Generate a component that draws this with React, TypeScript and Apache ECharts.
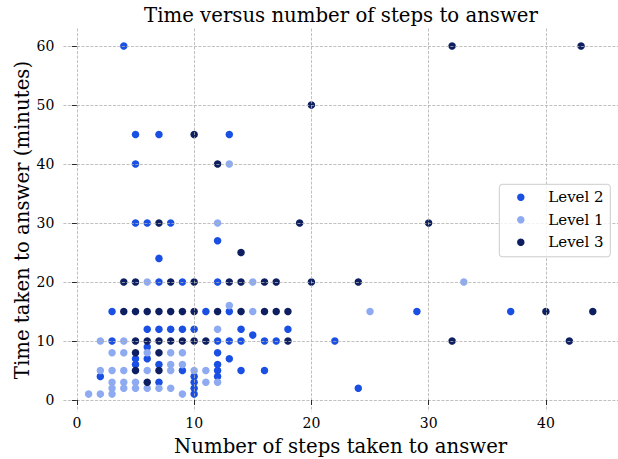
import React, { useEffect, useRef } from "react";
import * as echarts from "echarts";

const seriesNames = ["Level 2", "Level 1", "Level 3"];
const seriesColors = ["#1a4fe4", "#8eaaf1", "#0d1f60"];

// [steps, minutes]
const level2: number[][] = [
  [4, 60], [5, 45], [7, 45], [13, 45], [5, 40], [5, 30], [6, 30], [8, 30], [12, 27], [7, 24],
  [7, 20], [9, 20], [12, 20], [3, 15], [11, 15], [13, 15], [29, 15], [37, 15],
  [6, 12], [7, 12], [8, 12], [9, 12], [10, 12], [14, 12], [18, 12], [15, 11],
  [3, 10], [12, 10], [13, 10], [14, 10], [16, 10], [17, 10], [22, 10], [6, 9], [12, 8],
  [5, 7], [6, 7], [13, 7], [5, 6], [7, 6], [12, 6], [9, 5], [12, 5], [14, 5], [16, 5],
  [2, 4], [10, 4], [12, 4], [7, 3], [10, 3], [10, 2], [24, 2], [10, 1],
];

const level1: number[][] = [
  [13, 40], [12, 30], [6, 20], [15, 20], [33, 20], [13, 16], [15, 15], [25, 15], [12, 12],
  [2, 10], [4, 10], [3, 8], [4, 8], [6, 8], [8, 8], [9, 8], [8, 6], [9, 6],
  [2, 5], [3, 5], [4, 5], [6, 5], [8, 5], [10, 5], [11, 5], [3, 3], [4, 3], [5, 3], [11, 3], [12, 3],
  [3, 2], [4, 2], [5, 2], [6, 2], [7, 2], [8, 2], [1, 1], [2, 1], [3, 1], [9, 1],
];

const level3: number[][] = [
  [32, 60], [43, 60], [20, 50], [10, 45], [12, 40], [7, 30], [19, 30], [30, 30], [14, 25],
  [4, 20], [5, 20], [8, 20], [10, 20], [13, 20], [14, 20], [16, 20], [17, 20], [20, 20], [24, 20],
  [4, 15], [5, 15], [6, 15], [7, 15], [8, 15], [9, 15], [10, 15], [12, 15], [14, 15], [16, 15],
  [17, 15], [18, 15], [40, 15], [44, 15],
  [5, 10], [6, 10], [7, 10], [8, 10], [9, 10], [10, 10], [11, 10], [18, 10], [32, 10], [42, 10],
  [5, 8], [7, 8], [5, 5], [7, 5], [6, 3],
];

const xTicks = [0, 10, 20, 30, 40];
const yTicks = [0, 10, 20, 30, 40, 50, 60];

const FONT = "DejaVu Serif";

export default function App() {
  const ref = useRef<HTMLDivElement>(null);
  useEffect(() => {
    if (!ref.current) return;
    const chart = echarts.init(ref.current, undefined, { renderer: "svg" });
    const gridLine = { show: true, lineStyle: { color: "#b0b0b0", type: [3, 1.5], width: 0.8 } };
    const allData = [level2, level1, level3];

    // legend drawn as graphic elements (box, markers, labels)
    const legendLeft = 499.3;
    const legendTop = 184.3;
    const rowGap = 22.5;
    const legendItems: any[] = [
      {
        type: "rect",
        shape: { x: legendLeft, y: legendTop, width: 111, height: 72.5, r: 3 },
        style: { fill: "rgba(255,255,255,0.8)", stroke: "#cccccc", lineWidth: 1 },
        z: 10,
      },
    ];
    seriesNames.forEach((name, i) => {
      const cy = legendTop + 13 + i * rowGap;
      legendItems.push({
        type: "circle",
        shape: { cx: legendLeft + 21.5, cy, r: 3.75 },
        style: { fill: seriesColors[i] },
        z: 11,
      });
      legendItems.push({
        type: "text",
        x: legendLeft + 49,
        y: cy,
        style: {
          text: name,
          fontFamily: FONT,
          fontSize: 15,
          fill: "#000",
          verticalAlign: "middle",
          align: "left",
        },
        z: 11,
      });
    });

    chart.setOption({
      animation: false,
      backgroundColor: "#ffffff",
      title: {
        text: "Time versus number of steps to answer",
        left: 341,
        textAlign: "center",
        top: 5,
        padding: 0,
        textStyle: { fontFamily: FONT, fontSize: 19.7, fontWeight: "normal", color: "#000" },
      },
      graphic: legendItems,
      grid: { left: 63.4, right: 0, top: 28.6, bottom: 47.5, outerBoundsMode: "none", containLabel: false },
      xAxis: {
        type: "value",
        min: -1.15,
        max: 46.15,
        z: 3,
        axisLine: { show: false },
        axisTick: { show: true, length: 5, lineStyle: { color: "#000", width: 0.8 }, customValues: xTicks },
        axisLabel: { customValues: xTicks, fontFamily: FONT, fontSize: 14, color: "#000", margin: 4 },
        splitLine: gridLine,
        name: "Number of steps taken to answer",
        nameLocation: "middle",
        nameGap: 25,
        nameMoveOverlap: false,
        nameTextStyle: { fontFamily: FONT, fontSize: 19.7, color: "#000" },
      },
      yAxis: {
        type: "value",
        min: -1.95,
        max: 62.95,
        z: 3,
        axisLine: { show: false },
        axisTick: { show: true, length: 5, lineStyle: { color: "#000", width: 0.8 }, customValues: yTicks },
        axisLabel: { customValues: yTicks, fontFamily: FONT, fontSize: 14, color: "#000", margin: 9 },
        splitLine: gridLine,
        name: "Time taken to answer (minutes)",
        nameLocation: "middle",
        nameGap: 31,
        nameMoveOverlap: false,
        nameTextStyle: { fontFamily: FONT, fontSize: 19.7, color: "#000" },
      },
      series: seriesNames.map((name, i) => ({
        name,
        type: "scatter",
        symbol: "circle",
        symbolSize: 7.5,
        itemStyle: { color: seriesColors[i], opacity: 1 },
        data: allData[i],
      })),
    });
    return () => chart.dispose();
  }, []);
  return (
    <div
      ref={ref}
      style={{ position: "fixed", left: 0, top: 0, width: 618, height: 459, background: "#fff" }}
    />
  );
}
